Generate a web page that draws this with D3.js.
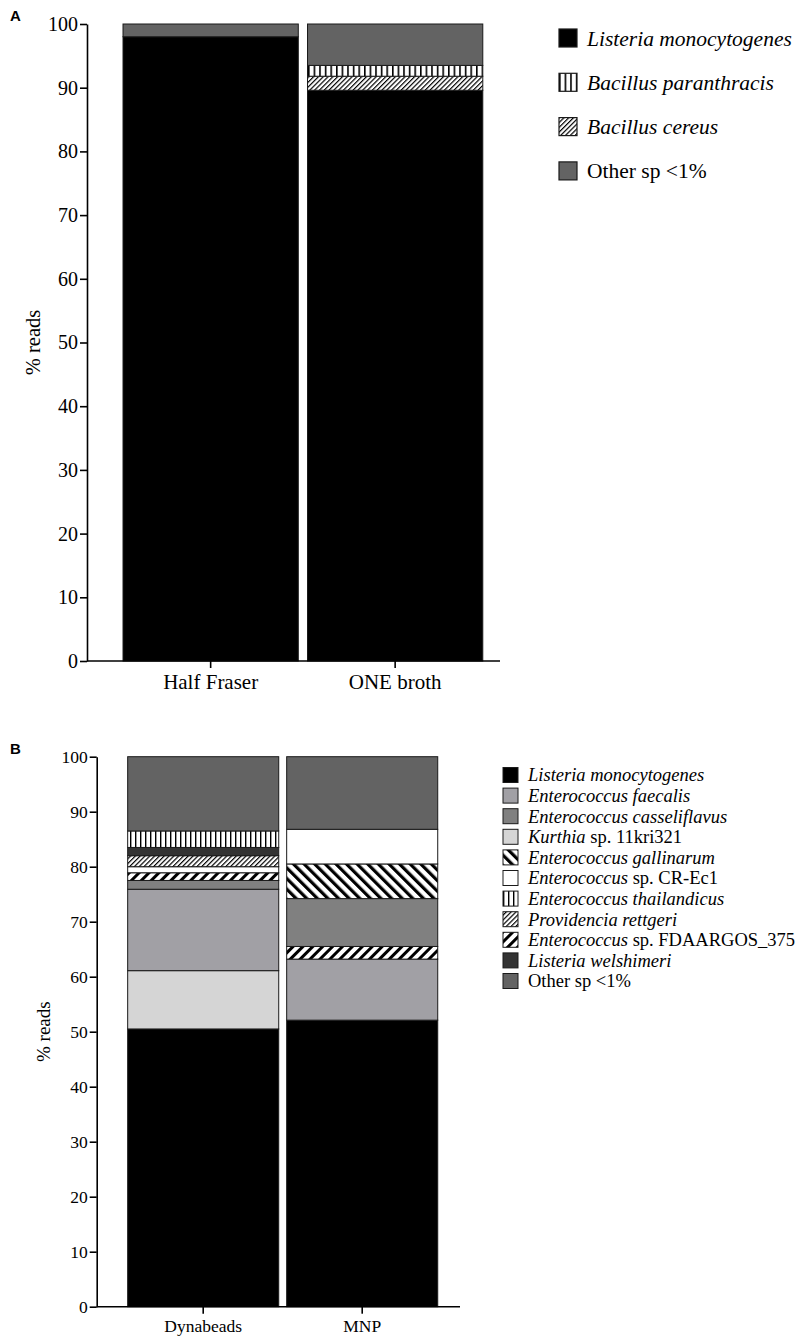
<!DOCTYPE html>
<html>
<head>
<meta charset="utf-8">
<script src="https://cdn.jsdelivr.net/npm/d3@7"></script>
<style>
  body { margin: 0; background: #fff; }
  svg text { font-family: "Times New Roman", Times, "Liberation Serif", "DejaVu Serif", serif; fill: #000; }
</style>
</head>
<body>
<svg id="chart" width="798" height="1339"></svg>
<script>
var SERIF = '"Times New Roman", Times, "Liberation Serif", "DejaVu Serif", serif';

// panel A data: % reads per enrichment broth
var samplesA = ["Half Fraser", "ONE broth"];
var speciesA = ["Listeria monocytogenes", "Bacillus paranthracis", "Bacillus cereus", "Other sp <1%"];
var stackOrderA = ["Listeria monocytogenes", "Bacillus cereus", "Bacillus paranthracis", "Other sp <1%"];
var halfFraserValues = [98.0, 0, 0, 2.0];
var oneBrothValues = [89.6, 2.2, 1.7, 6.5];

// panel B data: % reads per separation method
var samplesB = ["Dynabeads", "MNP"];
var speciesB = [
    "Listeria monocytogenes", "Enterococcus faecalis", "Enterococcus casseliflavus",
    "Kurthia sp. 11kri321", "Enterococcus gallinarum", "Enterococcus sp. CR-Ec1",
    "Enterococcus thailandicus", "Providencia rettgeri", "Enterococcus sp. FDAARGOS_375",
    "Listeria welshimeri", "Other sp <1%"
];
// italic part / plain part for the legend labels
var labelItalicB = [
    "Listeria monocytogenes", "Enterococcus faecalis", "Enterococcus casseliflavus",
    "Kurthia", "Enterococcus gallinarum", "Enterococcus", "Enterococcus thailandicus",
    "Providencia rettgeri", "Enterococcus", "Listeria welshimeri", ""
];
var labelPlainB = ["", "", "", " sp. 11kri321", "", " sp. CR-Ec1", "", "", " sp. FDAARGOS_375", "", "Other sp <1%"];

// stacks go bottom -> top
var dynabeadsOrder = [
    "Listeria monocytogenes", "Kurthia sp. 11kri321", "Enterococcus faecalis",
    "Enterococcus casseliflavus", "Enterococcus sp. FDAARGOS_375", "Enterococcus sp. CR-Ec1",
    "Providencia rettgeri", "Listeria welshimeri", "Enterococcus thailandicus", "Other sp <1%"
];
var dynabeadsValues = [50.5, 10.6, 14.8, 1.6, 1.4, 1.1, 2.0, 1.5, 3.0, 13.5];
var mnpOrder = [
    "Listeria monocytogenes", "Enterococcus faecalis", "Enterococcus sp. FDAARGOS_375",
    "Enterococcus casseliflavus", "Enterococcus gallinarum", "Enterococcus sp. CR-Ec1", "Other sp <1%"
];
var mnpValues = [52.1, 11.1, 2.3, 8.7, 6.3, 6.3, 13.2];

var yTicks = [0, 10, 20, 30, 40, 50, 60, 70, 80, 90, 100];

var svg = d3.select("#chart");
var defs = svg.append("defs");

// hatch patterns
function linePattern(id, spacing, width, angle) {
    var p = defs.append("pattern")
        .attr("id", id)
        .attr("patternUnits", "userSpaceOnUse")
        .attr("width", spacing)
        .attr("height", spacing)
        .attr("patternTransform", "rotate(" + angle + ")");
    p.append("rect").attr("width", spacing).attr("height", spacing).attr("fill", "#fff");
    p.append("rect").attr("x", 0).attr("y", 0).attr("width", width).attr("height", spacing).attr("fill", "#000");
}
linePattern("vlinesA", 5.6, 1.6, 0);
linePattern("vlinesB", 5, 1.4, 0);
linePattern("fineDiag", 3.4, 1.2, 45);
linePattern("boldFwd", 7, 3, 45);
linePattern("boldBack", 7.5, 3.2, -45);

var fillA = {
    "Listeria monocytogenes": "#000",
    "Bacillus paranthracis": "url(#vlinesA)",
    "Bacillus cereus": "url(#fineDiag)",
    "Other sp <1%": "#636363"
};
var fillB = {
    "Listeria monocytogenes": "#000",
    "Enterococcus faecalis": "#a1a0a5",
    "Enterococcus casseliflavus": "#808080",
    "Kurthia sp. 11kri321": "#d5d5d5",
    "Enterococcus gallinarum": "url(#boldBack)",
    "Enterococcus sp. CR-Ec1": "#fff",
    "Enterococcus thailandicus": "url(#vlinesB)",
    "Providencia rettgeri": "url(#fineDiag)",
    "Enterococcus sp. FDAARGOS_375": "url(#boldFwd)",
    "Listeria welshimeri": "#333",
    "Other sp <1%": "#636363"
};

function stackRows(order, values) {
    var tops = d3.cumsum(values);
    return order.map(function (sp, i) {
        return { species: sp, y0: tops[i] - values[i], y1: tops[i] };
    }).filter(function (d) { return d.y1 > d.y0; });
}

function drawPanel(opt) {
    var g = svg.append("g");
    var y = d3.scaleLinear().domain([0, 100]).range([opt.bottom, opt.top]);
    var x = d3.scaleBand().domain(opt.samples).range(opt.xRange).paddingInner(0.05).paddingOuter(0.025);

    opt.samples.forEach(function (s, i) {
        g.append("g").selectAll("rect")
            .data(opt.stacks[i])
            .enter()
            .append("rect")
            .attr("x", x(s))
            .attr("width", x.bandwidth())
            .attr("y", function (d) { return y(d.y1); })
            .attr("height", function (d) { return y(d.y0) - y(d.y1); })
            .attr("fill", function (d) { return opt.fills[d.species]; })
            .attr("stroke", "#1a1a1a")
            .attr("stroke-width", 1);
    });

    // y axis
    var yAxis = g.append("g")
        .attr("transform", "translate(" + opt.axisX + ",0)")
        .call(d3.axisLeft(y).tickValues(yTicks).tickSize(7).tickPadding(2).tickSizeOuter(0))
        .attr("font-family", SERIF);
    yAxis.select(".domain").attr("stroke-width", 1.6);
    yAxis.selectAll(".tick line").attr("stroke-width", 1.6);
    yAxis.selectAll("text").style("font-size", opt.tickFont + "px");

    // x axis
    var xAxis = g.append("g")
        .attr("transform", "translate(0," + opt.bottom + ")")
        .call(d3.axisBottom(x).tickSize(7).tickPadding(6).tickSizeOuter(0))
        .attr("font-family", SERIF);
    xAxis.select(".domain").attr("d", "M" + opt.axisX + ",0H" + opt.axisEnd).attr("stroke-width", 1.6);
    xAxis.selectAll(".tick line").attr("stroke-width", 1.6);
    xAxis.selectAll("text").style("font-size", opt.labelFont + "px");

    g.append("text")
        .attr("transform", "translate(" + opt.titleX + "," + ((opt.top + opt.bottom) / 2) + ") rotate(-90)")
        .attr("text-anchor", "middle")
        .style("font-size", opt.titleFont + "px")
        .text("% reads");

    g.append("text")
        .attr("x", 10).attr("y", opt.letterY)
        .style("font-family", "'Liberation Sans', Arial, sans-serif")
        .style("font-weight", "bold")
        .style("font-size", "15px")
        .text(opt.letter);
}

drawPanel({
    samples: samplesA,
    stacks: [stackRows(stackOrderA, halfFraserValues), stackRows(stackOrderA, oneBrothValues)],
    fills: fillA,
    top: 24, bottom: 661,
    xRange: [118.4, 487.4],
    axisX: 87, axisEnd: 500,
    tickFont: 20, labelFont: 21, titleFont: 20.5, titleX: 40,
    letter: "A", letterY: 21
});

drawPanel({
    samples: samplesB,
    stacks: [stackRows(dynabeadsOrder, dynabeadsValues), stackRows(mnpOrder, mnpValues)],
    fills: fillB,
    top: 756.7, bottom: 1306.7,
    xRange: [123.7, 441.7],
    axisX: 96.7, axisEnd: 460,
    tickFont: 17.5, labelFont: 17.5, titleFont: 19, titleX: 50,
    letter: "B", letterY: 754
});

// legend A
var legA = svg.append("g").selectAll("g")
    .data(speciesA)
    .enter()
    .append("g")
    .attr("transform", function (d, i) { return "translate(559," + (38 + i * 44.3) + ")"; });
legA.append("rect")
    .attr("x", 0).attr("y", -9).attr("width", 18).attr("height", 18)
    .attr("fill", function (d) { return fillA[d]; })
    .attr("stroke", "#1a1a1a").attr("stroke-width", 1.2);
legA.append("text")
    .attr("x", 28).attr("dy", "0.35em")
    .style("font-size", "21.5px")
    .style("font-style", function (d) { return d === "Other sp <1%" ? "normal" : "italic"; })
    .text(function (d) { return d; });

// legend B
var legB = svg.append("g").selectAll("g")
    .data(speciesB)
    .enter()
    .append("g")
    .attr("transform", function (d, i) { return "translate(503," + (775 + i * 20.6) + ")"; });
legB.append("rect")
    .attr("x", 0).attr("y", -7.5).attr("width", 15).attr("height", 15)
    .attr("fill", function (d) { return fillB[d]; })
    .attr("stroke", "#1a1a1a").attr("stroke-width", 1);
var legBText = legB.append("text")
    .attr("x", 25).attr("dy", "0.35em")
    .style("font-size", "18.5px");
legBText.append("tspan")
    .style("font-style", "italic")
    .text(function (d, i) { return labelItalicB[i]; });
legBText.append("tspan")
    .text(function (d, i) { return labelPlainB[i]; });
</script>
</body>
</html>
